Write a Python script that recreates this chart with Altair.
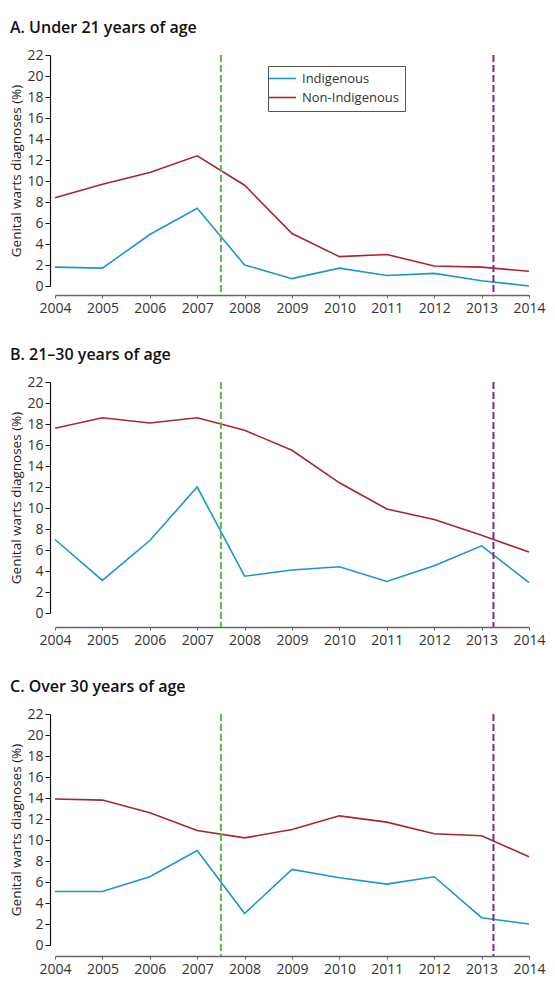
import altair as alt
import pandas as pd

years = list(range(2004, 2015))
groups = ["Indigenous", "Non-Indigenous"]
group_colors = ["#1b96d0", "#a8262d"]

under21_ind = [1.8, 1.7, 4.9, 7.4, 2.0, 0.7, 1.7, 1.0, 1.2, 0.5, 0.0]
under21_non = [8.4, 9.7, 10.8, 12.4, 9.6, 5.0, 2.8, 3.0, 1.9, 1.8, 1.4]
age21_30_ind = [7.0, 3.1, 6.9, 12.0, 3.5, 4.1, 4.4, 3.0, 4.5, 6.4, 2.9]
age21_30_non = [17.6, 18.6, 18.1, 18.6, 17.4, 15.5, 12.4, 9.9, 8.9, 7.4, 5.8]
over30_ind = [5.1, 5.1, 6.5, 9.0, 3.0, 7.2, 6.4, 5.8, 6.5, 2.6, 2.0]
over30_non = [13.9, 13.8, 12.6, 10.9, 10.2, 11.0, 12.3, 11.7, 10.6, 10.4, 8.4]

panel_titles = ["A.  Under 21 years of age", "B.  21\u201330 years of age", "C.  Over 30 years of age"]
marker_years = [2007.5, 2013.25]
marker_colors = ["#5db84a", "#7b2a85"]
y_ticks = list(range(0, 23, 2))
y_title = "Genital warts diagnoses (%)"

FONT = "Open Sans"
W, H = 474, 231


def panel(title, ind, non, xoff, show_legend):
    df = pd.DataFrame({
        "year": years * 2,
        "group": [groups[0]] * len(years) + [groups[1]] * len(years),
        "value": ind + non,
    })
    xscale = alt.Scale(domain=[2004, 2014], nice=False, zero=False)
    yscale = alt.Scale(domain=[0, 22], nice=False)
    xaxis = alt.Axis(values=years, format="d", title=None, offset=xoff, grid=False,
                     domainColor="#666", tickColor="#666", tickSize=3, domainWidth=1.5,
                     labelPadding=3, labelFontSize=14, labelColor="#333", labelFlush=False)
    yaxis = alt.Axis(values=y_ticks, title=y_title, offset=5, grid=False,
                     domainColor="#111", tickColor="#111", tickSize=5, domainWidth=1.2,
                     labelPadding=2, labelFontSize=14, labelColor="#333",
                     titleFontSize=13.5, titleFontWeight="normal", titleColor="#222",
                     titlePadding=3)
    if show_legend:
        leg = alt.Legend(title=None, orient="none", legendX=213, legendY=11,
                         strokeColor="#555", fillColor="white", padding=6,
                         symbolType="M-2.7,0H2.7", symbolSize=100, symbolStrokeWidth=1.6,
                         labelFontSize=13, labelColor="#333", rowPadding=5, labelOffset=13,
                         symbolOffset=2)
    else:
        leg = None
    line = alt.Chart(df).mark_line(strokeWidth=1.6).encode(
        x=alt.X("year:Q", scale=xscale, axis=xaxis),
        y=alt.Y("value:Q", scale=yscale, axis=yaxis),
        color=alt.Color("group:N", scale=alt.Scale(domain=groups, range=group_colors), legend=leg),
    )
    mdf = pd.DataFrame({"year": marker_years, "c": marker_colors})
    rules = alt.Chart(mdf).mark_rule(strokeDash=[7, 3], strokeWidth=2).encode(
        x=alt.X("year:Q", scale=xscale, axis=xaxis),
        y=alt.Y(datum=22, scale=yscale, axis=yaxis),
        y2=alt.Y2(datum=-xoff * 22 / H),
        stroke=alt.Stroke("c:N", scale=None),
    )
    return alt.layer(line, rules).properties(
        width=W, height=H,
        title=alt.TitleParams(title, anchor="start", frame="bounds", fontSize=16,
                              fontWeight=600, color="#111", offset=12),
    )


chart = alt.vconcat(
    panel(panel_titles[0], under21_ind, under21_non, 9, True),
    panel(panel_titles[1], age21_30_ind, age21_30_non, 14, False),
    panel(panel_titles[2], over30_ind, over30_non, 11, False),
    spacing=32,
).properties(padding={"left": 1, "top": 12, "right": 0, "bottom": 0}).configure(font=FONT).configure_view(stroke=None)

chart.save("out.html", embed_options={"renderer": "svg", "actions": False})
